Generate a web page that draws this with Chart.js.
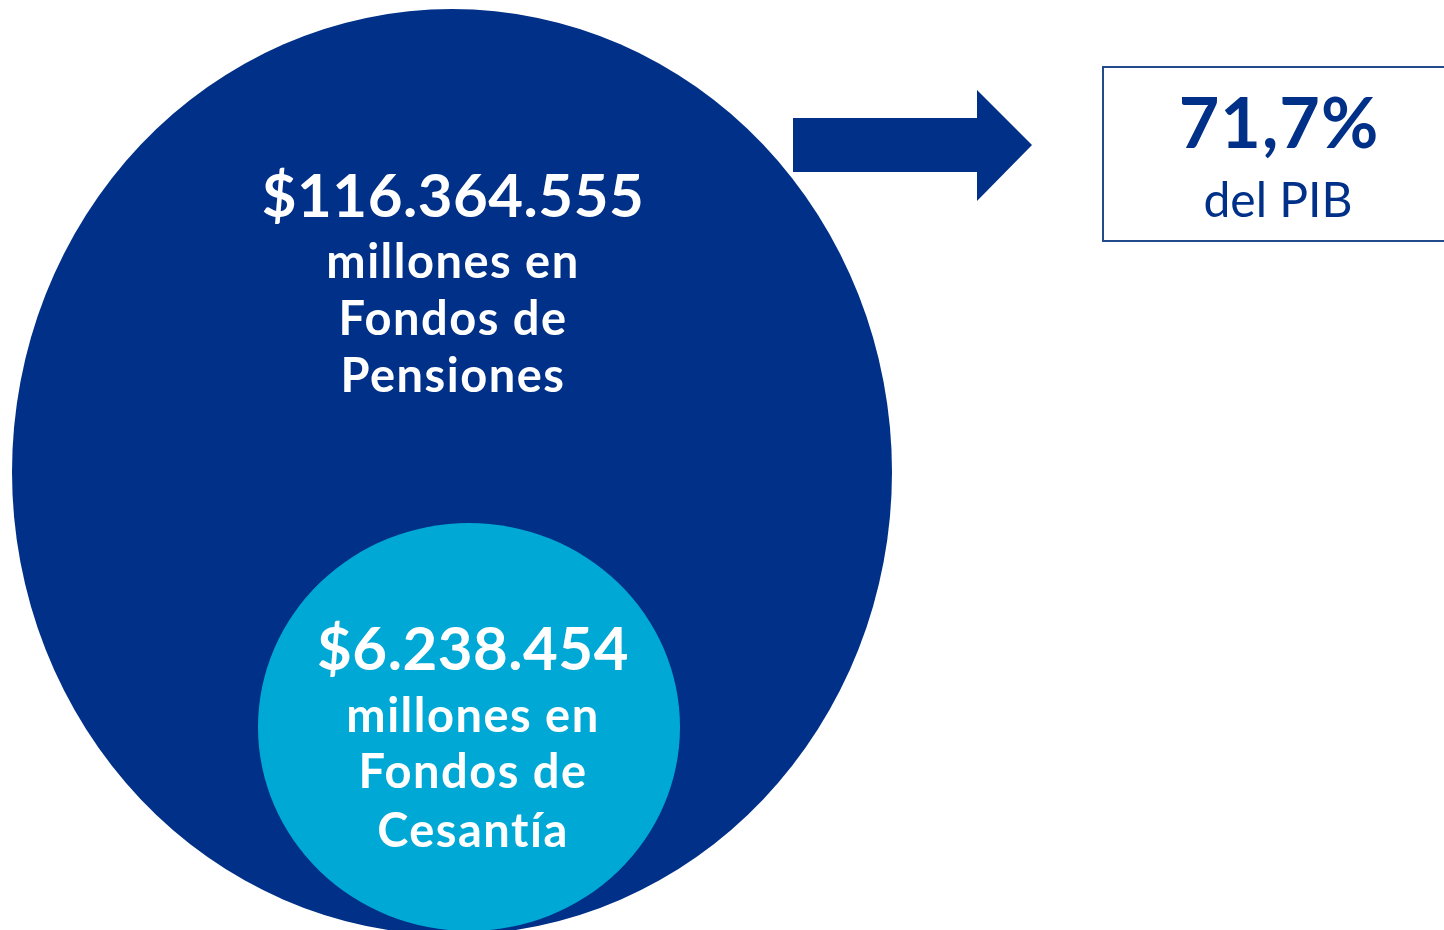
<!DOCTYPE html>
<html><head><meta charset="utf-8">
<script src="https://cdn.jsdelivr.net/npm/chart.js@4"></script>
<style>html,body{margin:0;padding:0;background:#fff;overflow:hidden}canvas{display:block}</style>
</head><body>
<canvas id="c" width="1444" height="930"></canvas>
<script>
// ---- data ----
const categorias = ['Fondos de Pensiones', 'Fondos de Cesantía'];
const montos = [116364555, 6238454];          // millones de pesos
const unidad = 'millones en';
const pibPorcentaje = [71.7];
const pibEtiqueta = ['del PIB'];

// ---- styles / layout (scale units: x 0..1444, y 0..930) ----
const DARK = 'rgb(0,48,135)';
const LIGHT = 'rgb(0,168,214)';
const colores = [DARK, LIGHT];
const centros = [[452, 472], [469, 727]];
const radios = [[440, 463], [211, 204]];
const textoOffset = [{dx: 1, lines: [-255, -194, -137, -80]}, {dx: 4, lines: [-57, 5, 61, 120]}];
const FONT = 'Lato, "Open Sans", sans-serif';

function fmtMiles(n) { return '$' + String(n).replace(/\B(?=(\d{3})+(?!\d))/g, '.'); }
function fmtPct(v) { return String(v).replace('.', ',') + '%'; }

function ellipseCanvas(rx, ry, color) {
  const cv = document.createElement('canvas');
  cv.width = rx * 2; cv.height = ry * 2;
  const c = cv.getContext('2d');
  c.fillStyle = color;
  c.beginPath(); c.ellipse(rx, ry, rx, ry, 0, 0, Math.PI * 2); c.fill();
  return cv;
}
const estilos = radios.map((r, i) => ellipseCanvas(r[0], r[1], colores[i]));

const textPlugin = {
  id: 'infografia',
  afterDatasetsDraw(chart) {
    const ctx = chart.ctx;
    const xs = chart.scales.x, ys = chart.scales.y;
    const meta = chart.getDatasetMeta(0);
    ctx.save();
    ctx.textAlign = 'center';
    ctx.textBaseline = 'alphabetic';
    ctx.fillStyle = '#fff';
    meta.data.forEach((el, i) => {
      const o = textoOffset[i];
      const cat = categorias[i];
      const k = cat.lastIndexOf(' ');
      const lines = [fmtMiles(montos[i]), unidad, cat.slice(0, k), cat.slice(k + 1)];
      lines.forEach((t, j) => {
        if (j === 0) { ctx.font = 'bold 60px ' + FONT; ctx.letterSpacing = '0.5px'; }
        else { ctx.font = 'bold 47px ' + FONT; ctx.letterSpacing = '1.5px'; }
        ctx.fillText(t, el.x + o.dx, el.y + o.lines[j]);
      });
    });
    ctx.letterSpacing = '0px';
    // arrow
    const P = (x, y) => [xs.getPixelForValue(x), ys.getPixelForValue(y)];
    const pts = [[793,118],[977,118],[977,90],[1032,145],[977,201],[977,172],[793,172]].map(p => P(p[0], p[1]));
    ctx.fillStyle = DARK;
    ctx.beginPath();
    pts.forEach((p, i) => i ? ctx.lineTo(p[0], p[1]) : ctx.moveTo(p[0], p[1]));
    ctx.closePath(); ctx.fill();
    // box
    const [bx, by] = P(1102, 66), [bx2, by2] = P(1460, 241);
    ctx.strokeStyle = 'rgb(35,75,140)';
    ctx.lineWidth = 2;
    ctx.strokeRect(bx + 1, by + 1, bx2 - bx, by2 - by - 1);
    ctx.fillStyle = DARK;
    ctx.font = 'bold 70px ' + FONT;
    ctx.letterSpacing = '1px';
    const [tx, ty] = P(1279, 148);
    ctx.fillText(fmtPct(pibPorcentaje[0]), tx, ty);
    ctx.letterSpacing = '0px';
    ctx.font = '48px ' + FONT;
    const [tx2, ty2] = P(1278, 217);
    ctx.fillText(pibEtiqueta[0], tx2, ty2);
    ctx.restore();
  }
};

new Chart(document.getElementById('c'), {
  type: 'scatter',
  data: {
    labels: categorias,
    datasets: [{
      label: 'Montos',
      data: categorias.map((c, i) => ({x: centros[i][0], y: centros[i][1], v: montos[i]})),
      pointStyle: estilos,
      pointRadius: 10,
      clip: false
    }]
  },
  options: {
    responsive: false,
    animation: false,
    devicePixelRatio: 1,
    layout: {padding: 0, autoPadding: false},
    plugins: {legend: {display: false}, tooltip: {enabled: false}, title: {display: false}},
    events: [],
    scales: {
      x: {type: 'linear', min: 0, max: 1444, display: false, offset: false},
      y: {type: 'linear', min: 0, max: 930, reverse: true, display: false}
    }
  },
  plugins: [textPlugin]
});
</script>
</body></html>
